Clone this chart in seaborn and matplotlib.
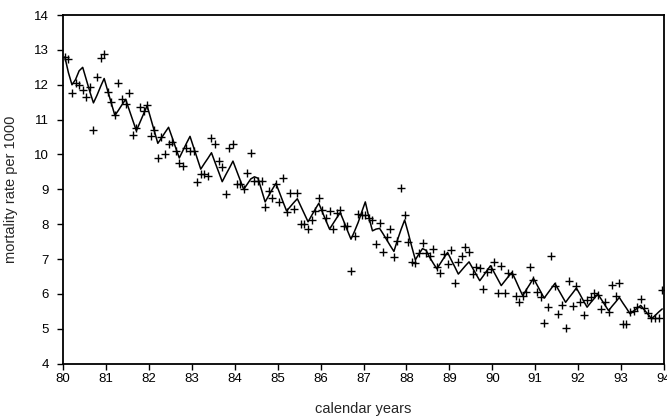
import numpy as np
import pandas as pd
import matplotlib
matplotlib.use("Agg")
import matplotlib.pyplot as plt
import seaborn as sns

# Observed monthly mortality rates (per 1000), Jan 1980 .. Dec 1993
observed = [
    12.80, 12.74, 11.77, 12.05, 12.00, 11.84, 11.66, 11.95, 10.69, 12.23, 12.77, 12.89,
    11.78, 11.50, 11.14, 12.05, 11.59, 11.46, 11.76, 10.57, 10.76, 11.36, 11.24, 11.43,
    10.52, 10.69, 9.90, 10.50, 10.00, 10.30, 10.35, 10.10, 9.76, 9.67, 10.19, 10.11,
    10.11, 9.21, 9.45, 9.45, 9.38, 10.48, 10.30, 9.81, 9.64, 8.88, 10.19, 10.30,
    9.16, 9.14, 9.02, 9.46, 10.03, 9.25, 9.24, 9.24, 8.50, 8.95, 8.76, 9.14,
    8.64, 9.33, 8.35, 8.89, 8.45, 8.89, 8.00, 8.00, 7.86, 8.12, 8.38, 8.76,
    8.41, 8.19, 8.38, 7.86, 8.33, 8.41, 7.95, 7.95, 6.67, 7.67, 8.29, 8.26,
    8.26, 8.19, 8.12, 7.43, 8.03, 7.19, 7.62, 7.86, 7.07, 7.52, 9.05, 8.26,
    7.50, 6.92, 6.90, 7.17, 7.46, 7.17, 7.10, 7.30, 6.76, 6.60, 7.14, 6.86,
    7.27, 6.31, 6.92, 7.09, 7.36, 7.19, 6.57, 6.76, 6.73, 6.14, 6.62, 6.71,
    6.92, 6.03, 6.79, 6.03, 6.60, 6.57, 5.95, 5.78, 5.93, 6.05, 6.76, 6.41,
    6.05, 5.90, 5.17, 5.62, 7.08, 6.24, 5.43, 5.67, 5.02, 6.38, 5.65, 6.22,
    5.78, 5.40, 5.84, 5.90, 6.03, 5.97, 5.57, 5.78, 5.48, 6.26, 5.93, 6.31,
    5.14, 5.14, 5.48, 5.50, 5.62, 5.86, 5.59, 5.46, 5.30, 5.30, 5.30, 6.12,
]

# Fitted (model) monthly rates
fitted = [
    12.80, 12.35, 12.00, 12.15, 12.40, 12.50, 12.15, 11.80, 11.48, 11.70, 11.95, 12.18,
    11.82, 11.47, 11.12, 11.27, 11.43, 11.58, 11.28, 10.98, 10.68, 10.92, 11.16, 11.40,
    11.04, 10.68, 10.32, 10.47, 10.63, 10.78, 10.49, 10.19, 9.90, 10.11, 10.32, 10.52,
    10.21, 9.89, 9.58, 9.74, 9.89, 10.05, 9.77, 9.50, 9.22, 9.42, 9.61, 9.81,
    9.54, 9.27, 9.00, 9.15, 9.30, 9.36, 9.32, 8.98, 8.64, 8.82, 9.00, 9.17,
    8.91, 8.64, 8.38, 8.50, 8.62, 8.73, 8.51, 8.29, 8.07, 8.25, 8.43, 8.60,
    8.35, 8.10, 7.86, 8.02, 8.18, 8.33, 8.08, 7.82, 7.57, 7.80, 8.05, 8.35,
    8.64, 8.20, 7.81, 7.86, 7.88, 7.72, 7.55, 7.38, 7.22, 7.55, 7.85, 8.12,
    7.75, 7.35, 6.98, 7.15, 7.30, 7.25, 7.05, 6.88, 6.72, 6.88, 7.04, 7.19,
    6.98, 6.78, 6.57, 6.69, 6.81, 6.92, 6.74, 6.56, 6.38, 6.52, 6.67, 6.81,
    6.62, 6.43, 6.24, 6.37, 6.50, 6.62, 6.40, 6.17, 5.95, 6.12, 6.28, 6.45,
    6.26, 6.07, 5.88, 6.02, 6.16, 6.30, 6.12, 5.94, 5.76, 5.90, 6.03, 6.17,
    5.99, 5.80, 5.62, 5.75, 5.87, 6.00, 5.84, 5.68, 5.52, 5.65, 5.77, 5.90,
    5.74, 5.59, 5.43, 5.51, 5.59, 5.67, 5.54, 5.42, 5.29, 5.38, 5.48, 5.57,
]

start_year = 80
year_ticks = list(range(80, 95))
y_ticks = list(range(4, 15))

months = np.arange(len(observed))
time = start_year + (months + 0.5) / 12.0
df = pd.DataFrame({"time": time, "observed": observed, "fitted": fitted})

sns.set_style("ticks")
plt.rcParams["font.family"] = ["Liberation Sans", "DejaVu Sans"]

fig = plt.figure(figsize=(6.67, 4.18), dpi=100)
ax = fig.add_axes([0.0945, 0.130, 0.9010, 0.834])

sns.lineplot(data=df, x="time", y="fitted", color="black", linewidth=1.1, ax=ax)
sns.scatterplot(data=df, x="time", y="observed", marker="+", color="black",
                s=32, linewidth=1.0, ax=ax)

ax.set_xlim(80, 94)
ax.set_ylim(4, 14)
ax.set_xticks(year_ticks)
ax.set_yticks(y_ticks)
ax.set_xticklabels([str(t) for t in year_ticks])
ax.set_yticklabels([str(t) for t in y_ticks])
ax.tick_params(axis="both", direction="out", length=4, width=1, colors="black",
               labelsize=9.5)
ax.tick_params(axis="x", pad=3)
ax.tick_params(axis="y", pad=6)
for s in ax.spines.values():
    s.set_visible(True)
    s.set_color("black")
    s.set_linewidth(1.3)

ax.set_xlabel("calendar years", fontsize=10.5, labelpad=12)
ax.set_ylabel("mortality rate per 1000", fontsize=10.5, labelpad=12)
ax.grid(False)

fig.savefig("out.png", dpi=100)
